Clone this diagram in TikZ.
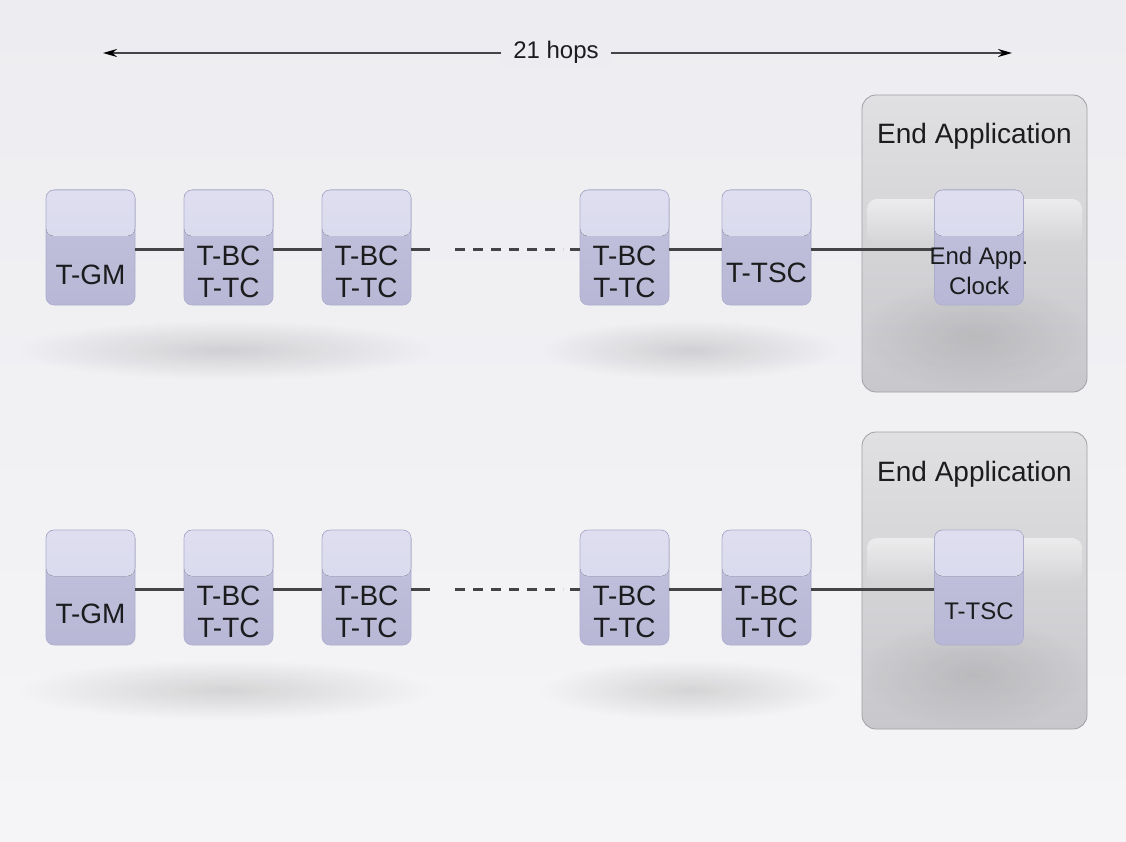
\documentclass[tikz,border=0pt]{standalone}
\usepackage{fontspec}
\setmainfont{Liberation Sans}
\usetikzlibrary{arrows.meta,fadings}
\tikzfading[name=softblob, inner color=transparent!0, outer color=transparent!100]
\tikzfading[name=bandfade, top color=transparent!30, middle color=transparent!20, bottom color=transparent!100]
\definecolor{bg}{RGB}{237,237,241}
\definecolor{boxlow}{RGB}{184,184,214}
\definecolor{boxlow2}{RGB}{195,195,222}
\definecolor{boxhigh}{RGB}{214,214,236}
\definecolor{boxedge}{RGB}{172,172,206}
\definecolor{contA}{RGB}{224,224,226}
\definecolor{contB}{RGB}{200,200,204}
\definecolor{contedge}{RGB}{160,160,165}
\definecolor{linec}{RGB}{68,68,70}
\definecolor{txt}{RGB}{28,28,30}
\tikzset{
  hopbox/.style={draw=boxedge, line width=0.6pt, rounded corners=8pt,
    top color=boxlow2, bottom color=boxlow,
    minimum width=89pt, minimum height=115pt, inner sep=0pt,
    path picture={\fill[top color=boxhigh!80!white, bottom color=boxhigh]
      (path picture bounding box.north west) rectangle ([yshift=-46pt]path picture bounding box.north east);}},
  container/.style={draw=contedge, line width=0.8pt, rounded corners=14pt,
    top color=contA, bottom color=contB, minimum width=225pt, minimum height=297pt, inner sep=0pt},
  lbl/.style={text=txt, font=\fontsize{28}{32}\selectfont, align=center, inner sep=0pt},
  mid/.style={text=txt, font=\fontsize{24}{30}\selectfont, align=center, inner sep=0pt},
  conn/.style={draw=linec, line width=3.5pt},
  dashconn/.style={draw=linec, line width=3.5pt, dash pattern=on 10pt off 8pt},
  shadowfill/.style={fill=black, opacity=0.13, path fading=softblob},
  span/.style={line width=2pt, draw=linec, -{Stealth[length=14pt,width=8pt,color=black]}}
}
\begin{document}
\begin{tikzpicture}[x=1pt,y=-1pt]
\useasboundingbox (0,0) rectangle (1126,842);
\fill[top color=bg, bottom color=bg!55!white] (0,0) rectangle (1126,842);
% shadows
\foreach \yy in {350,690}{
  \fill[shadowfill] (225,\yy) ellipse (210pt and 30pt);
  \fill[shadowfill] (690,\yy) ellipse (150pt and 30pt);
}
% top arrow
\node[mid, fill=bg, inner xsep=12pt, inner ysep=4pt] (hops) at (556,52) {21 hops};
\coordinate (aL) at (103,53);
\coordinate (aR) at (1012,53);
\draw[span] (hops.west |- aL) -- (aL);
\draw[span] (hops.east |- aR) -- (aR);

% ---------- Row 1 ----------
\node[container] (cA) at (974.5,243.5) {};
\fill[white, opacity=0.75, path fading=bandfade, rounded corners=10pt] (867,199) rectangle (1082,245);
\fill[black, opacity=0.09, path fading=softblob] (974,335) ellipse (115pt and 55pt);
\node[lbl] (cAt) at (974.5,136) {End Application};

\node[hopbox] (gm1) at (90.5,247.5) {};
\node[hopbox] (b11) at (228.5,247.5) {};
\node[hopbox] (b12) at (366.5,247.5) {};
\node[hopbox] (b13) at (624.5,247.5) {};
\node[hopbox] (tsc1) at (766.5,247.5) {};
\node[hopbox] (clk1) at (979,247.5) {};

\coordinate (d1a) at (430,249.5);
\coordinate (d1b) at (455,249.5);
\coordinate (d1c) at (563,249.5);
\coordinate (d1d) at (570,249.5);
\draw[conn] (gm1.east |- d1a) -- (b11.west |- d1a);
\draw[conn] (b11.east |- d1a) -- (b12.west |- d1a);
\draw[conn] (b12.east |- d1a) -- (d1a);
\draw[dashconn] (d1b) -- (d1c);
\draw[conn] (d1d) -- (b13.west |- d1d);
\draw[conn] (b13.east |- d1a) -- (tsc1.west |- d1a);
\draw[conn] (tsc1.east |- d1a) -- (clk1.west |- d1a);

\node[lbl] (t1) at (90.5,275) {T-GM};
\node[lbl] (t2) at (228.5,272) {T-BC\\T-TC};
\node[lbl] (t3) at (366.5,272) {T-BC\\T-TC};
\node[lbl] (t4) at (624.5,272) {T-BC\\T-TC};
\node[lbl] (t5) at (766.5,273) {T-TSC};
\node[mid] (t6) at (979,271) {End App.\\Clock};

% ---------- Row 2 ----------
\node[container] (cB) at (974.5,580.5) {};
\fill[white, opacity=0.75, path fading=bandfade, rounded corners=10pt] (867,538) rectangle (1082,584);
\fill[black, opacity=0.09, path fading=softblob] (974,673) ellipse (115pt and 55pt);
\node[lbl] (cBt) at (974.5,474) {End Application};

\node[hopbox] (gm2) at (90.5,587.5) {};
\node[hopbox] (b21) at (228.5,587.5) {};
\node[hopbox] (b22) at (366.5,587.5) {};
\node[hopbox] (b23) at (624.5,587.5) {};
\node[hopbox] (b24) at (766.5,587.5) {};
\node[hopbox] (tsc2) at (979,587.5) {};

\coordinate (d2a) at (430,589.5);
\coordinate (d2b) at (455,589.5);
\coordinate (d2c) at (563,589.5);
\coordinate (d2d) at (570,589.5);
\draw[conn] (gm2.east |- d2a) -- (b21.west |- d2a);
\draw[conn] (b21.east |- d2a) -- (b22.west |- d2a);
\draw[conn] (b22.east |- d2a) -- (d2a);
\draw[dashconn] (d2b) -- (d2c);
\draw[conn] (d2d) -- (b23.west |- d2d);
\draw[conn] (b23.east |- d2a) -- (b24.west |- d2a);
\draw[conn] (b24.east |- d2a) -- (tsc2.west |- d2a);

\node[lbl] (u1) at (90.5,614) {T-GM};
\node[lbl] (u2) at (228.5,612) {T-BC\\T-TC};
\node[lbl] (u3) at (366.5,612) {T-BC\\T-TC};
\node[lbl] (u4) at (624.5,612) {T-BC\\T-TC};
\node[lbl] (u5) at (766.5,612) {T-BC\\T-TC};
\node[mid] (u6) at (979,611) {T-TSC};
\end{tikzpicture}
\end{document}
